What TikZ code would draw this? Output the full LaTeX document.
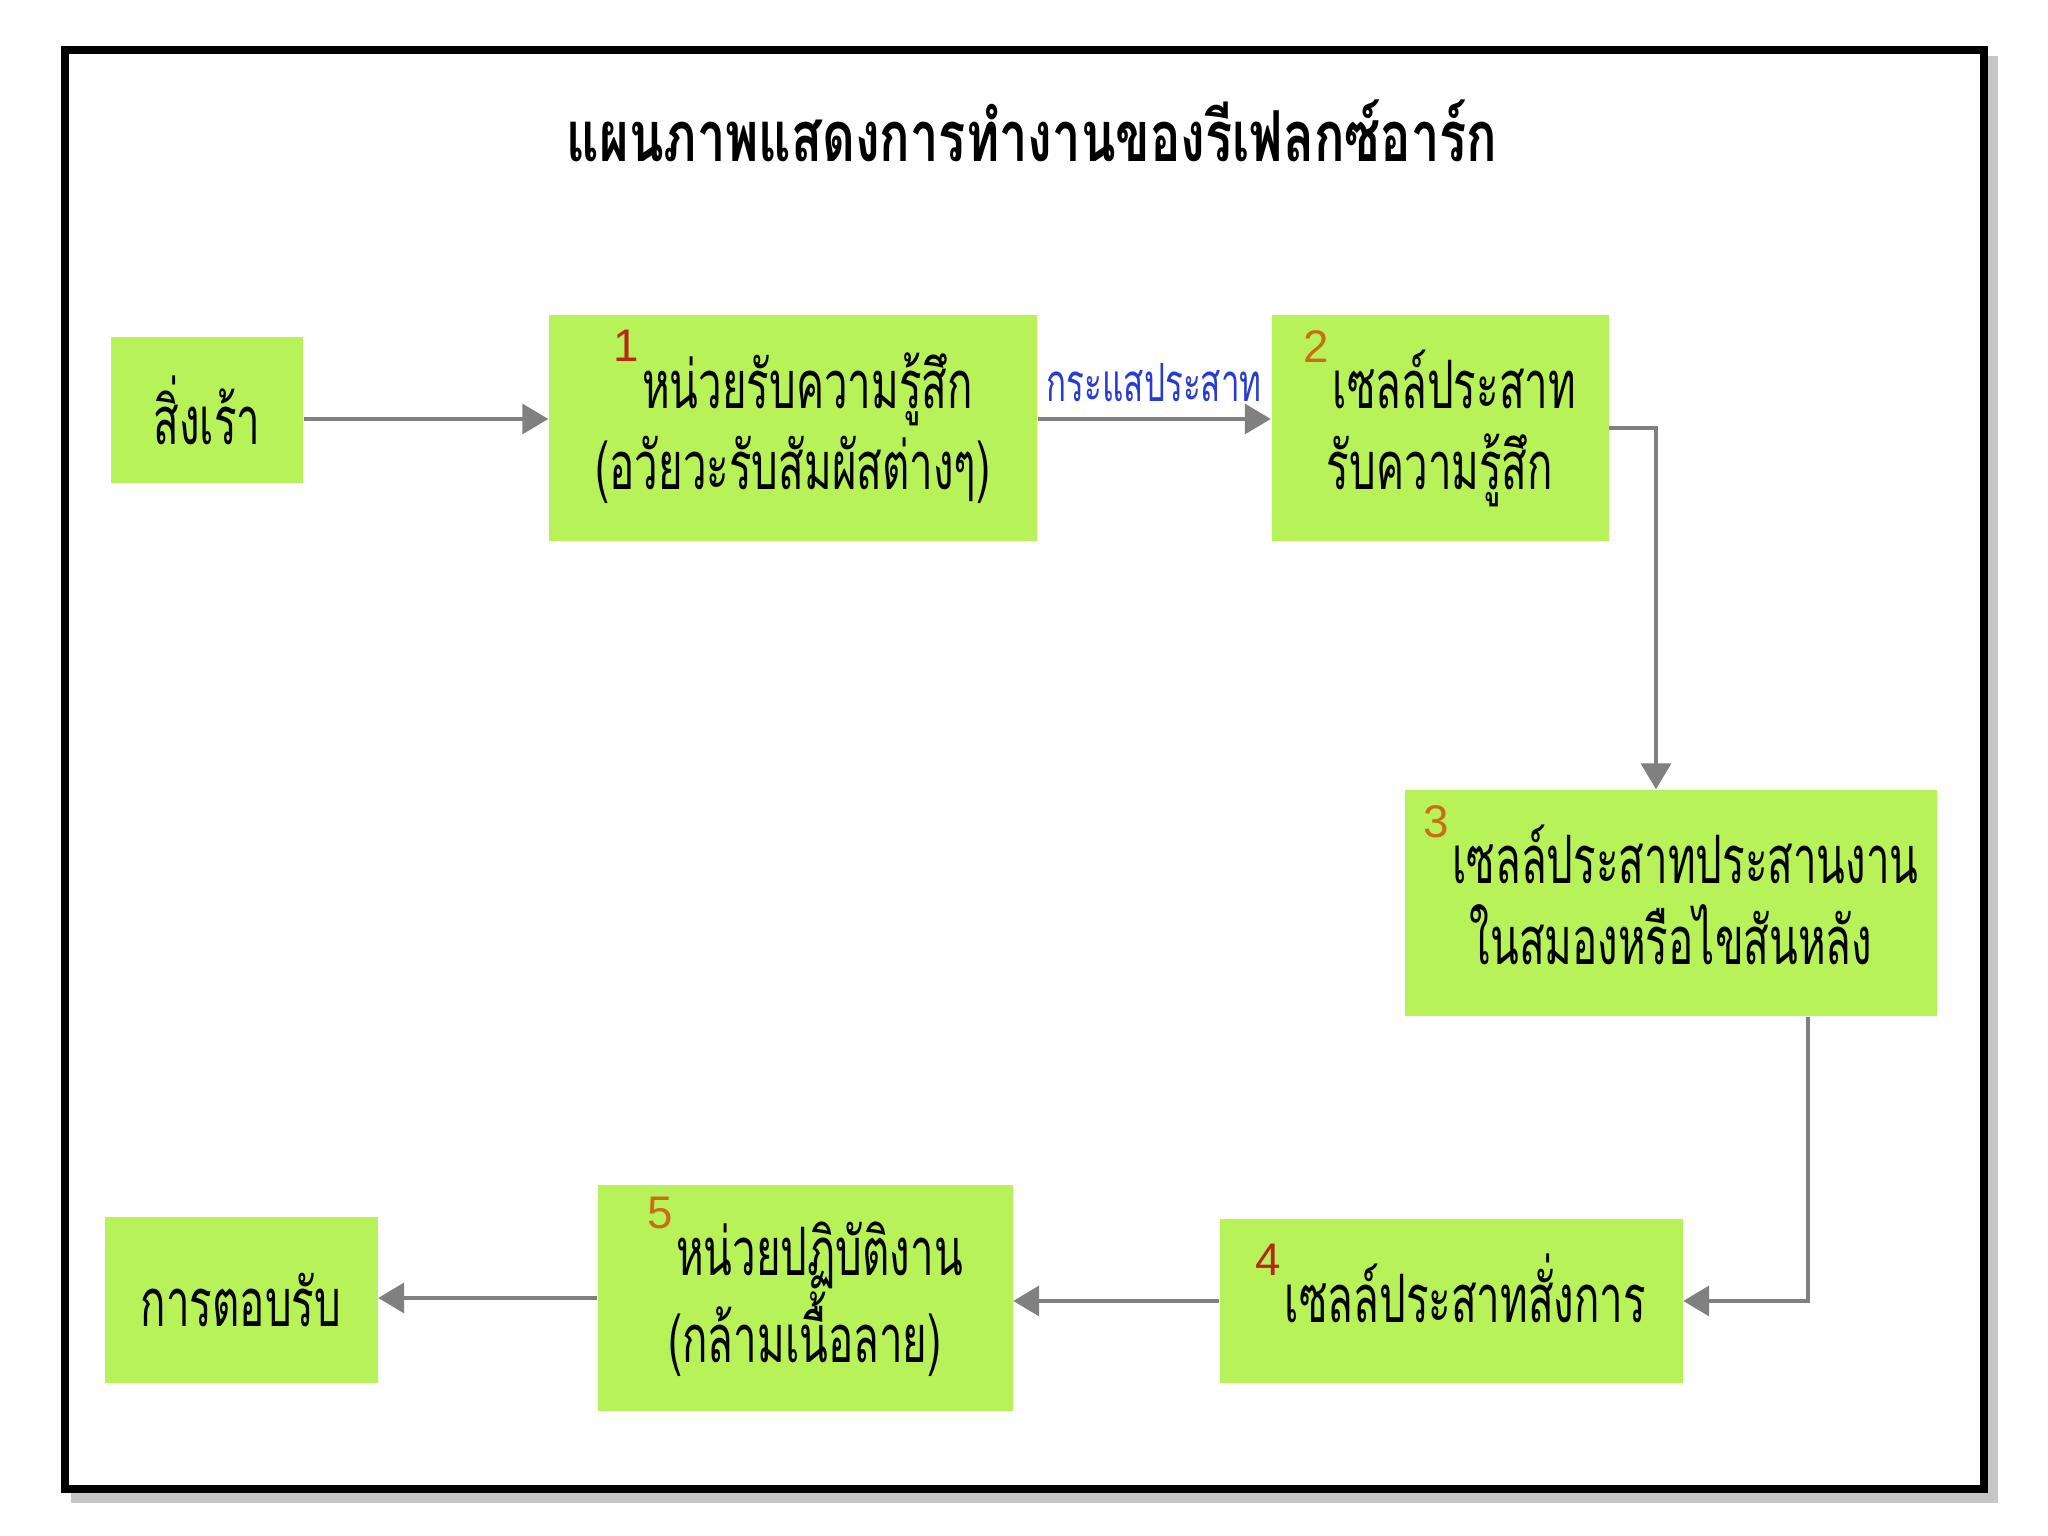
\documentclass[tikz,border=0pt]{standalone}
\usepackage{fontspec}
\usepackage{xcolor}
\usepackage{tikz}
\usetikzlibrary{arrows.meta, positioning, calc}

\newfontfamily\thaifont[Script=Thai, FakeStretch=0.63]{Loma}
\newfontfamily\titlefont[Script=Thai, FakeStretch=0.72]{Loma}
\newfontfamily\numfont{Liberation Sans}
\definecolor{boxgreen}{RGB}{183,242,88}
\definecolor{numred}{RGB}{185,40,20}
\definecolor{numorange}{RGB}{200,110,20}
\definecolor{nerveblue}{RGB}{40,60,210}
\definecolor{arrgray}{RGB}{128,128,128}
\newcommand{\stepno}[2]{\raisebox{0.7em}{\numfont\fontsize{13}{13}\selectfont\textcolor{#1}{#2}}\kern1pt}

\begin{document}
\begin{tikzpicture}[
  stepbox/.style={rectangle, fill=boxgreen, draw=none, inner sep=0pt, align=center,
    font=\thaifont\fontsize{19}{23}\selectfont},
  lifted/.style={text depth=0.36cm},
  arr/.style={-{Triangle[length=0.26cm, width=0.3cm]}, line width=1pt, arrgray},
  nerve/.style={font=\thaifont\fontsize{15}{17}\selectfont, text=nerveblue},
]

% page and frame
\useasboundingbox (0,0) rectangle (20.48,15.36);
\fill[white] (0,0) rectangle (20.48,15.36);
\fill[gray!45] (0.71,0.33) rectangle (19.98,14.80);
\draw[line width=2.5pt, fill=white] (0.65,0.47) rectangle (19.84,14.86);

\node[font=\titlefont\fontsize{20}{24}\selectfont\bfseries] (title) at (10.32,14.05)
  {แผนภาพแสดงการทำงานของรีเฟลกซ์อาร์ก};

% boxes
\node[stepbox, minimum width=1.92cm, minimum height=1.46cm] (stim) at (2.07,11.26) {สิ่งเร้า};
\node[stepbox, lifted, minimum width=4.88cm, minimum height=2.26cm] (recv) at (7.93,11.08)
  {\stepno{numred}{1}หน่วยรับความรู้สึก\\(อวัยวะรับสัมผัสต่างๆ)};
\node[stepbox, lifted, minimum width=3.37cm, minimum height=2.26cm] (sens) at (14.40,11.08)
  {\stepno{numorange}{2}เซลล์ประสาท\\รับความรู้สึก};
\node[stepbox, lifted, minimum width=5.32cm, minimum height=2.26cm] (inter) at (16.71,6.33)
  {\stepno{numorange}{3}เซลล์ประสาทประสานงาน\\ในสมองหรือไขสันหลัง};
\node[stepbox, lifted, minimum width=4.63cm, minimum height=1.64cm] (motor) at (14.51,2.35)
  {\stepno{numred}{4}เซลล์ประสาทสั่งการ};
\node[stepbox, lifted, minimum width=4.15cm, minimum height=2.26cm] (effect) at (8.05,2.38)
  {\stepno{numorange}{5}หน่วยปฏิบัติงาน\\(กล้ามเนื้อลาย)};
\node[stepbox, minimum width=2.73cm, minimum height=1.66cm] (resp) at (2.41,2.36) {การตอบรับ};

% connectors
\draw[arr] ([yshift=-0.09cm]stim.east) -- ([yshift=-0.09cm]stim.east -| recv.west);
\draw[arr] ([yshift=0.09cm]recv.east) -- node[nerve, above=1pt] {กระแสประสาท} ([yshift=0.09cm]sens.west);
\draw[arr] (sens.east) -| ([xshift=-0.15cm]inter.north);
\draw[arr] ([xshift=1.37cm]inter.south) |- (motor.east);
\draw[arr] (motor.west) -- (motor.west -| effect.east);
\draw[arr] (effect.west) -- (effect.west -| resp.east);

\end{tikzpicture}
\end{document}
